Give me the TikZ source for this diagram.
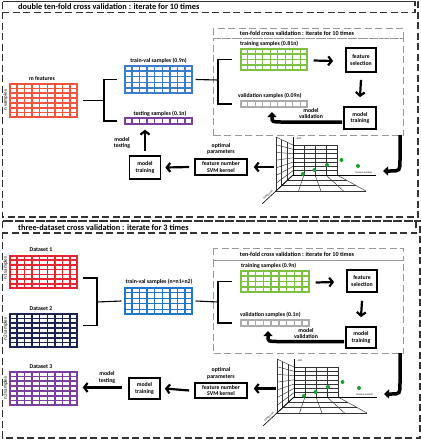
\documentclass[tikz,border=0pt]{standalone}
\usepackage{fontspec}
\setmainfont{Carlito}
\usetikzlibrary{arrows.meta,calc}
\definecolor{redA}{HTML}{F2543D}
\definecolor{redB}{HTML}{E82430}
\definecolor{navyC}{HTML}{1B2352}
\definecolor{purpC}{HTML}{7B3FA0}
\definecolor{blueA}{HTML}{3A7DCB}
\definecolor{blueB}{HTML}{1F77C9}
\definecolor{greenC}{HTML}{7CC142}
\definecolor{grayC}{HTML}{ABABAB}
\definecolor{dotgreen}{HTML}{1E9E33}
\tikzset{
 outerdash/.style={draw=black!80, line width=1.4pt, dash pattern=on 7pt off 3.5pt},
 innerdash/.style={draw=black!40, line width=1pt, dash pattern=on 7pt off 3.5pt},
 gridbox/.style={draw=#1, line width=1.4pt, inner sep=0pt, fill=white},
 procbox/.style={draw=black, line width=1.8pt, inner sep=0pt, align=center, font=\fontsize{5.8}{6.6}\selectfont\bfseries},
 lbl/.style={inner sep=0pt, font=\fontsize{5.8}{6.6}\selectfont\bfseries, align=center},
 ttl/.style={inner sep=0pt, font=\fontsize{8.3}{9}\selectfont\bfseries, anchor=west},
 hdr/.style={inner sep=0pt, font=\fontsize{6.1}{7}\selectfont\bfseries},
 sidelbl/.style={inner sep=0pt, font=\fontsize{5}{5.5}\selectfont, rotate=90},
 tinylbl/.style={inner sep=0pt, font=\fontsize{2.6}{3}\selectfont},
 flow/.style={line width=2.2pt, -{Straight Barb[length=3.5pt,width=9pt]}},
 bendarrow/.style={line width=3.5pt, -{Triangle[length=5pt,width=9pt]}},
 conn/.style={line width=1.1pt},
 chartline/.style={line width=0.45pt, draw=black!80},
}
\newcommand\colgrid[3]{%
  \pgfmathtruncatemacro\cgn{#2-1}%
  \foreach \k in {1,...,\cgn}{\draw[#3,line width=1.4pt] ($(#1.north west)!\k/#2!(#1.north east)$) -- ($(#1.south west)!\k/#2!(#1.south east)$);}}
\newcommand\rowgrid[3]{%
  \pgfmathtruncatemacro\rgn{#2-1}%
  \foreach \k in {1,...,\rgn}{\draw[#3,line width=1.4pt] ($(#1.north west)!\k/#2!(#1.south west)$) -- ($(#1.north east)!\k/#2!(#1.south east)$);}}
\newcommand\chartat[2]{%
 \begin{scope}[shift={(#1)}]
  \foreach \i in {0,...,4} \draw[chartline] (293+11*\i,145) -- (293+11*\i,175);
  \foreach \j in {0,...,7} \draw[chartline] (293,145+30*\j/7) -- (337,145+30*\j/7);
  \foreach \i in {0,...,3} \draw[chartline] (276+17*\i/3,137+8*\i/3) -- (276+17*\i/3,191-16*\i/3);
  \foreach \j in {0,...,7} \draw[chartline] (276,137+54*\j/7) -- (293,145+30*\j/7);
  \foreach \i in {0,...,4} \draw[chartline] (293+11*\i,175) -- (276+22.5*\i,191);
  \foreach \j in {1,2,3} \draw[chartline] (293-17*\j/3,175+16*\j/3) -- (337+29*\j/3,175+16*\j/3);
  \draw[line width=0.6pt] (293,175) -- (293,137);
  \draw[line width=0.6pt] (293,175) -- (376,175);
  \draw[line width=0.6pt] (293,175) -- (262,204);
  \node[tinylbl] (auc#2) at (299,139) {AUC};
  \node[tinylbl] (fn#2) at (364,173) {feature number};
  \node[tinylbl, rotate=43] (svm#2) at (268,195) {SVM kernel};
  \fill[dotgreen] (303,174) circle (2);
  \fill[dotgreen] (314.5,170) circle (2);
  \fill[dotgreen] (327,165) circle (2);
  \fill[dotgreen] (341.5,160) circle (2);
  \fill[dotgreen] (358,166) circle (2);
 \end{scope}}
\begin{document}
\begin{tikzpicture}[x=1pt,y=-1pt]
\useasboundingbox (0,0) rectangle (421,440);
% ================= section 1 =================
\draw[outerdash] (2.5,1.5) rectangle (418,217);
\draw[outerdash] (2.5,1.5) rectangle (415,12.5);
\node[ttl] (title1) at (18,7) {double ten-fold cross validation : iterate for 10 times};
% grids
\node[gridbox=redA, minimum width=67pt, minimum height=33pt] (m1) at (43.5,100.5) {};
\colgrid{m1}{9}{redA}\rowgrid{m1}{7}{redA}
\node[lbl] (mfeat) at (42,79) {m features};
\node[sidelbl] (nsam) at (5.5,100) {n samples};
\node[gridbox=blueA, minimum width=67pt, minimum height=27pt] (tv1) at (158.5,79.5) {};
\colgrid{tv1}{9}{blueA}\rowgrid{tv1}{5}{blueA}
\node[lbl] (tvl1) at (158.5,60.5) {train-val samples (0.9n)};
\node[gridbox=purpC, minimum width=67pt, minimum height=6pt] (ts1) at (158.5,121) {};
\colgrid{ts1}{9}{purpC}
\node[lbl] (tsl1) at (160,114) {testing samples (0.1n)};
% bracket 1
\coordinate (br1) at (104,100.5);
\draw[conn] ($(m1.east)+(5,0)$) -- (br1);
\draw[conn] ($(tv1.west)+(-7,0)$) -| (br1) |- ($(ts1.west)+(-7,0)$);
% inner box
\draw[innerdash] (213,28) rectangle (403,38);
\node[innerdash, minimum width=190pt, minimum height=97pt, anchor=north west, inner sep=0pt] (cv1) at (213,38) {};
\node[hdr] (hdr1) at (297,33) {ten-fold cross validation : iterate for 10 times};
\node[gridbox=greenC, minimum width=66pt, minimum height=21pt] (tr1) at (274,59.5) {};
\colgrid{tr1}{9}{greenC}\rowgrid{tr1}{4}{greenC}
\node[lbl, anchor=west] (trl1) at (240,44) {training samples (0.81n)};
\node[gridbox=grayC, minimum width=66pt, minimum height=6pt] (va1) at (274,104) {};
\colgrid{va1}{9}{grayC}
\node[lbl, anchor=west] (val1) at (238,96) {validation samples (0.09n)};
\coordinate (br2) at (218,80);
\draw[conn] ($(tv1.east)+(3,0)$) -- (br2);
\draw[conn] ($(tr1.west)+(-8,0)$) -| (br2) |- ($(va1.west)+(-8,0)$);
\node[procbox, minimum width=30pt, minimum height=24pt] (fs1) at (361,60) {feature\\selection};
\node[procbox, minimum width=32pt, minimum height=22pt] (mt1) at (360,118) {model\\training};
\draw[flow] ($(tr1.east)+(6,1)$) -- ($(fs1.west)+(-12,1)$);
\draw[flow] ($(fs1.south)+(0,7)$) -- ($(mt1.north)+(0,-9)$);
\draw[bendarrow] ($(mt1.west)+(-1,4)$) -- (282,122) .. controls (272,122) .. (272,112);
\node[lbl] (mv1) at (311,113.5) {model\\validation};
% chart
\chartat{0,0}{1}
\coordinate (cvo1) at (400,135);
\coordinate (chR1) at (383,171);
\draw[bendarrow] (cvo1) -- (400,160) .. controls (400,171) .. (390,171) -- (chR1);
\node[procbox, minimum width=52pt, minimum height=16pt, line width=1.6pt] (op1) at (221,167) {feature number\\SVM kernel};
\node[lbl] (opt1) at (221,149) {optimal\\parameters};
\draw[flow] ($(op1.east)+(26,0)$) -- ($(op1.east)+(6,0)$);
\node[procbox, minimum width=31pt, minimum height=23pt] (mt2) at (145,167.5) {model\\training};
\draw[flow] ($(op1.west)+(-5,0)$) -- ($(mt2.east)+(4,0)$);
\draw[flow] ($(mt2.north)+(0,-4)$) -- ($(mt2.north |- ts1.south)+(0,5)$);
\node[lbl] (mtl1) at (122,143) {model\\testing};
% ================= section 2 =================
\draw[outerdash] (2.5,221) rectangle (420,438);
\draw[outerdash] (2.5,221) rectangle (416,233);
\node[ttl] (title2) at (18,228) {three-dataset cross validation : iterate for 3 times};
\node[gridbox=redB, minimum width=67pt, minimum height=32pt] (d1) at (43.5,272) {};
\colgrid{d1}{9}{redB}\rowgrid{d1}{7}{redB}
\node[lbl] (ds1) at (41,250) {Dataset 1};
\node[sidelbl] (n1) at (5.5,268) {n1 samples};
\node[gridbox=navyC, minimum width=67pt, minimum height=33pt] (d2) at (43.5,330.5) {};
\colgrid{d2}{9}{navyC}\rowgrid{d2}{7}{navyC}
\node[lbl] (ds2) at (41,309) {Dataset 2};
\node[sidelbl] (n2) at (5.5,329) {n2 samples};
\node[gridbox=purpC, minimum width=67pt, minimum height=33pt] (d3) at (43.5,388.5) {};
\colgrid{d3}{9}{purpC}\rowgrid{d3}{7}{purpC}
\node[lbl] (ds3) at (41,367) {Dataset 3};
\node[sidelbl] (n3) at (5.5,388) {n3 samples};
\coordinate (br3) at (97,302);
\draw[conn] ($(d1.east)+(5,6)$) -| (br3) |- ($(d2.east)+(5,-5)$);
\node[gridbox=blueB, minimum width=67pt, minimum height=26pt] (tv2) at (158.5,301) {};
\colgrid{tv2}{9}{blueB}\rowgrid{tv2}{5}{blueB}
\draw[conn] (br3) -- ($(tv2.west)+(-3,0)$);
\node[lbl] (tvl2) at (159,282) {train-val samples (n=n1+n2)};
\draw[innerdash] (213,248) rectangle (403,260);
\node[innerdash, minimum width=190pt, minimum height=93pt, anchor=north west, inner sep=0pt] (cv2) at (213,260) {};
\node[hdr] (hdr2) at (297,254) {ten-fold cross validation : iterate for 10 times};
\node[gridbox=greenC, minimum width=68pt, minimum height=21pt] (tr2) at (275,281.5) {};
\colgrid{tr2}{9}{greenC}\rowgrid{tr2}{4}{greenC}
\node[lbl, anchor=west] (trl2) at (241,266) {training samples (0.9n)};
\node[gridbox=grayC, minimum width=68pt, minimum height=6pt] (va2) at (275,323) {};
\colgrid{va2}{9}{grayC}
\node[lbl, anchor=west] (val2) at (240,315) {validation samples (0.1n)};
\coordinate (br4) at (218,302);
\draw[conn] ($(tv2.east)+(3,0)$) -- (br4);
\draw[conn] ($(tr2.west)+(-8,0)$) -| (br4) |- ($(va2.west)+(-8,0)$);
\node[procbox, minimum width=30pt, minimum height=22pt] (fs2) at (362,281) {feature\\selection};
\node[procbox, minimum width=30pt, minimum height=21pt] (mt3) at (361,337.5) {model\\training};
\draw[flow] ($(tr2.east)+(6,1)$) -- ($(fs2.west)+(-12,1)$);
\draw[flow] ($(fs2.south)+(0,8)$) -- ($(mt3.north)+(0,-9)$);
\draw[bendarrow] ($(mt3.west)+(-1,4)$) -- (278,341.5) .. controls (268,341.5) .. (268,331);
\node[lbl] (mv2) at (306,333.5) {model\\validation};
\chartat{1,222}{2}
\coordinate (cvo2) at (400,353);
\coordinate (chR2) at (384,394);
\draw[bendarrow] (cvo2) -- (400,383) .. controls (400,394) .. (391,394) -- (chR2);
\node[procbox, minimum width=52pt, minimum height=15pt, line width=1.6pt] (op2) at (221,390.5) {feature number\\SVM kernel};
\node[lbl] (opt2) at (221,373.5) {optimal\\parameters};
\draw[flow] ($(op2.east)+(28,-2)$) -- ($(op2.east)+(6,-2)$);
\node[procbox, minimum width=31pt, minimum height=21pt] (mt4) at (144.5,388.5) {model\\training};
\draw[flow] ($(op2.west)+(-5,0)$) -- ($(mt4.east)+(4,0)$);
\draw[flow] ($(mt4.west)+(-6,-1)$) -- ($(d3.east)+(5,-1)$);
\node[lbl] (mtl2) at (107,377.5) {model\\testing};
\end{tikzpicture}
\end{document}
